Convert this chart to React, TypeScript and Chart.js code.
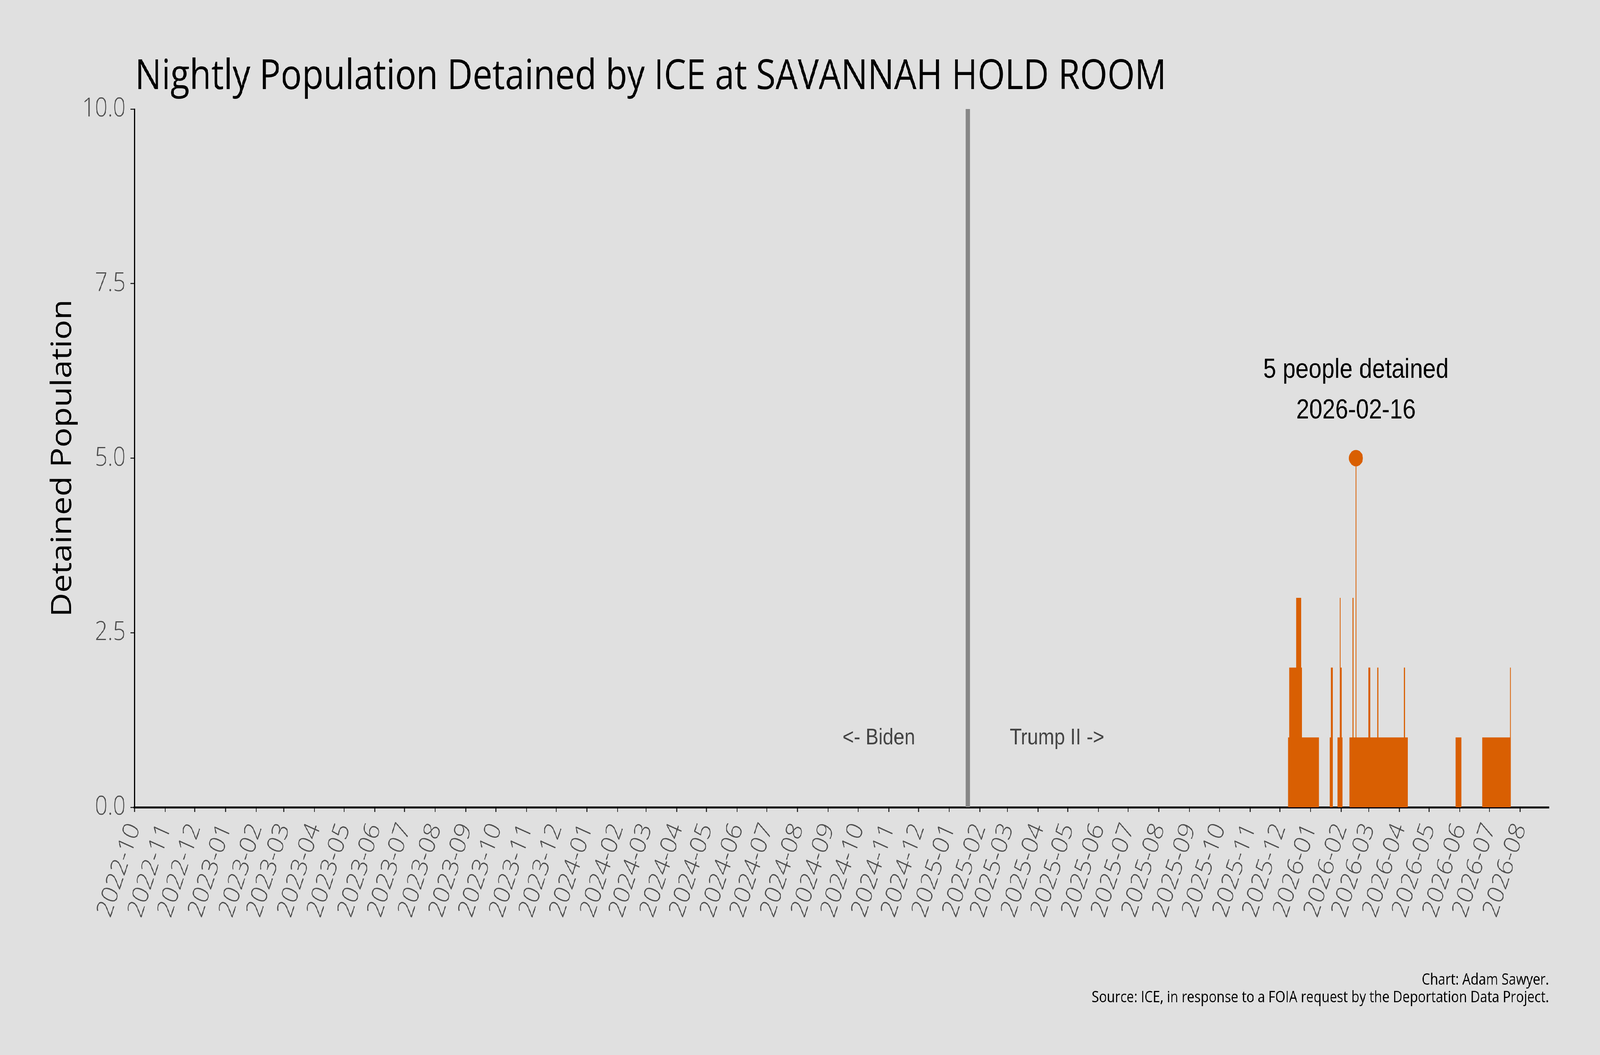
import { useEffect, useRef } from "react";
import { Chart, registerables } from "chart.js";

Chart.register(...registerables);

const TITLE = "Nightly Population Detained by ICE at SAVANNAH HOLD ROOM";
const Y_TITLE = "Detained Population";
const FOOTER = [
  "Chart: Adam Sawyer.",
  "Source: ICE, in response to a FOIA request by the Deportation Data Project.",
];

const xStart = "2022-10-01";
const xEnd = "2026-08-30";

const monthLabels = [
  "2022-10", "2022-11", "2022-12",
  "2023-01", "2023-02", "2023-03", "2023-04", "2023-05", "2023-06",
  "2023-07", "2023-08", "2023-09", "2023-10", "2023-11", "2023-12",
  "2024-01", "2024-02", "2024-03", "2024-04", "2024-05", "2024-06",
  "2024-07", "2024-08", "2024-09", "2024-10", "2024-11", "2024-12",
  "2025-01", "2025-02", "2025-03", "2025-04", "2025-05", "2025-06",
  "2025-07", "2025-08", "2025-09", "2025-10", "2025-11", "2025-12",
  "2026-01", "2026-02", "2026-03", "2026-04", "2026-05", "2026-06",
  "2026-07", "2026-08",
];

const yTicks = [0, 2.5, 5, 7.5, 10];

// nightly population as runs of equal nights: first night, last night, people
const runFirst = [
  "2025-12-10", "2025-12-11", "2025-12-18", "2025-12-23", "2025-12-24",
  "2026-01-21", "2026-01-22", "2026-01-29", "2026-01-31", "2026-02-01",
  "2026-02-02", "2026-02-10", "2026-02-13", "2026-02-14", "2026-02-16",
  "2026-02-17", "2026-03-01", "2026-03-03", "2026-03-10", "2026-03-11",
  "2026-04-06", "2026-04-07", "2026-05-28", "2026-06-24", "2026-07-22",
];
const runLast = [
  "2025-12-10", "2025-12-17", "2025-12-22", "2025-12-23", "2026-01-09",
  "2026-01-21", "2026-01-23", "2026-01-30", "2026-01-31", "2026-02-01",
  "2026-02-02", "2026-02-12", "2026-02-13", "2026-02-15", "2026-02-16",
  "2026-02-28", "2026-03-02", "2026-03-09", "2026-03-10", "2026-04-05",
  "2026-04-06", "2026-04-09", "2026-06-02", "2026-07-21", "2026-07-22",
];
const runValue = [
  1, 2, 3, 2, 1,
  1, 2, 1, 3, 2,
  1, 1, 3, 1, 5,
  1, 2, 1, 2, 1,
  2, 1, 1, 1, 2,
];

const peakDate = "2026-02-16";
const peakValue = 5;
const peakLines = ["5 people detained", "2026-02-16"];

const inaugurationDate = "2025-01-20";
const eraDates = ["2024-10-22", "2025-04-20"];
const eraLabels = ["<- Biden", "Trump II ->"];
const eraLevel = 1;

const ORANGE = "#d95f02";
const BG = "#e0e0e0";
const SANS = "'Open Sans', 'Noto Sans', sans-serif";
const ARIAL = "'Liberation Sans', Arial, sans-serif";

// drawing is laid out for 4800 x 2700 and stretched to the real viewport
const W = 4800;
const H = 2700;

const dayNum = (s: string) => {
  const [y, m, d] = s.split("-").map(Number);
  return Date.UTC(y, m - 1, d) / 86400000;
};

const fitFont = (ctx: CanvasRenderingContext2D, text: string, family: string, width: number) => {
  ctx.font = `100px ${family}`;
  const w = ctx.measureText(text).width;
  return (100 * width) / w;
};

const notesPlugin = {
  id: "notes",
  afterDraw(chart: any) {
    const { ctx, chartArea } = chart;
    const x = chart.scales.x;
    const y = chart.scales.y;
    ctx.save();

    // title
    const titleSize = fitFont(ctx, TITLE, SANS, 3095);
    ctx.font = `${titleSize}px ${SANS}`;
    ctx.fillStyle = "#000";
    ctx.textAlign = "left";
    ctx.textBaseline = "alphabetic";
    ctx.fillText(TITLE, chartArea.left + 2, chartArea.top - 51);

    // peak annotation
    const px = x.getPixelForValue(dayNum(peakDate));
    const py = y.getPixelForValue(peakValue + 1);
    ctx.font = `70px ${ARIAL}`;
    ctx.textAlign = "center";
    ctx.fillText(peakLines[0], px, py - 27);
    ctx.fillText(peakLines[1], px, py + 77);

    // era labels either side of the inauguration line
    ctx.font = `58px ${ARIAL}`;
    ctx.fillStyle = "#444";
    eraLabels.forEach((t, i) => {
      ctx.fillText(t, x.getPixelForValue(dayNum(eraDates[i])), y.getPixelForValue(eraLevel) + 18);
    });

    // footer
    const footSize = fitFont(ctx, FOOTER[1], SANS, 1372);
    ctx.font = `${footSize}px ${SANS}`;
    ctx.fillStyle = "#000";
    ctx.textAlign = "right";
    ctx.fillText(FOOTER[0], chartArea.right, 2520);
    ctx.fillText(FOOTER[1], chartArea.right, 2565);
    ctx.restore();
  },
};

export default function App() {
  const canvasRef = useRef<HTMLCanvasElement | null>(null);
  const wrapRef = useRef<HTMLDivElement | null>(null);

  useEffect(() => {
    document.documentElement.style.background = BG;
    document.body.style.margin = "0";
    document.body.style.overflow = "hidden";
    document.body.style.background = BG;
    const canvas = canvasRef.current;
    const wrap = wrapRef.current;
    if (!canvas || !wrap) return;

    const sx = window.innerWidth / W || 1;
    const sy = window.innerHeight / H || 1;
    wrap.style.transform = `scale(${sx}, ${sy})`;

    const start = dayNum(xStart);
    const end = dayNum(xEnd);
    const daily: { x: number; y: number }[] = [];
    for (let d = start; d <= end; d++) daily.push({ x: d, y: 0 });
    runFirst.forEach((first, i) => {
      for (let d = dayNum(first); d <= dayNum(runLast[i]); d++) {
        daily[d - start].y = runValue[i];
      }
    });

    const inaug = dayNum(inaugurationDate);
    const monthValues = monthLabels.map((m) => dayNum(m + "-01"));

    const tickFont = { family: SANS, size: 67, weight: "300" };
    const tickGrid = {
      display: true,
      drawOnChartArea: false,
      drawTicks: true,
      tickLength: 12,
      tickWidth: 3,
      tickColor: "#333",
    };

    const chart = new Chart(canvas, {
      type: "line",
      data: {
        datasets: [
          {
            label: "Detained",
            data: daily,
            stepped: "middle",
            fill: "origin",
            backgroundColor: ORANGE,
            borderColor: "rgba(0,0,0,0)",
            borderWidth: 0,
            pointRadius: 0,
            order: 2,
          },
          {
            label: "Inauguration",
            data: [
              { x: inaug, y: 0 },
              { x: inaug, y: 10 },
            ],
            borderColor: "#878787",
            borderWidth: 13,
            pointRadius: 0,
            fill: false,
            order: 3,
          },
          {
            type: "scatter",
            label: "Peak",
            data: [{ x: dayNum(peakDate), y: peakValue }],
            backgroundColor: ORANGE,
            borderWidth: 0,
            pointRadius: 21,
            order: 1,
          },
        ],
      } as any,
      options: {
        animation: false,
        responsive: false,
        devicePixelRatio: 1,
        layout: { padding: { top: 279, right: 153, bottom: 0, left: 0 } },
        plugins: {
          legend: { display: false },
          tooltip: { enabled: false },
        },
        scales: {
          x: {
            type: "linear",
            min: start,
            max: end,
            afterBuildTicks: (sc: any) => {
              sc.ticks = monthValues.map((value) => ({ value }));
            },
            afterFit: (sc: any) => {
              sc.height = 634;
            },
            ticks: {
              autoSkip: false,
              minRotation: 69,
              maxRotation: 69,
              padding: 18,
              color: "#4d4d4d",
              font: tickFont,
              callback: (_v: any, i: number) => monthLabels[i],
            },
            grid: tickGrid,
            border: { display: true, color: "#000", width: 5 },
          },
          y: {
            type: "linear",
            min: 0,
            max: 10,
            afterBuildTicks: (sc: any) => {
              sc.ticks = yTicks.map((value) => ({ value }));
            },
            afterFit: (sc: any) => {
              sc.width = 403;
            },
            ticks: {
              padding: 14,
              color: "#4d4d4d",
              font: tickFont,
              callback: (v: any) => Number(v).toFixed(1),
            },
            grid: tickGrid,
            border: { display: true, color: "#000", width: 3 },
            title: {
              display: true,
              text: Y_TITLE,
              color: "#000",
              font: { family: SANS, size: 85 },
              padding: { top: 138, bottom: 0 },
            },
          },
        },
      } as any,
      plugins: [notesPlugin],
    });

    return () => {
      chart.destroy();
    };
  }, []);

  return (
    <div
      ref={wrapRef}
      style={{
        position: "absolute",
        left: 0,
        top: 0,
        width: W,
        height: H,
        background: BG,
        transformOrigin: "0 0",
      }}
    >
      <canvas ref={canvasRef} width={W} height={H} style={{ width: W, height: H, display: "block" }} />
    </div>
  );
}
